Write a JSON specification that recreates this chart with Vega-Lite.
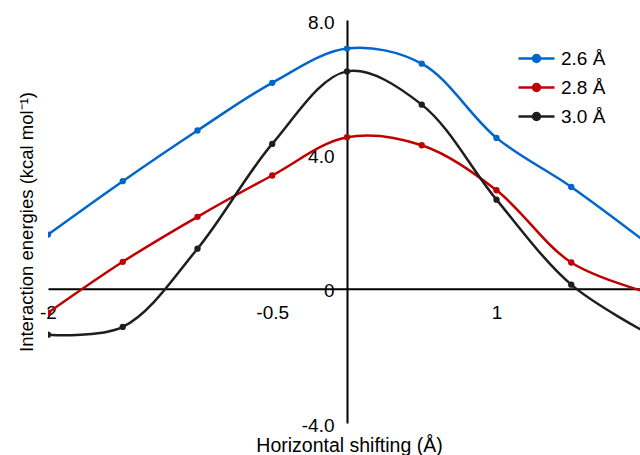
{
  "$schema": "https://vega.github.io/schema/vega-lite/v6.json",
  "width": 592,
  "height": 403,
  "autosize": {"type": "none"},
  "padding": {"left": 48, "top": 20, "right": 0, "bottom": 32},
  "background": "white",
  "config": {
    "view": {"stroke": null},
    "font": "Liberation Sans",
    "axis": {
      "grid": false,
      "ticks": false,
      "domainColor": "black",
      "domainWidth": 2,
      "labelColor": "black",
      "labelFontSize": 19,
      "labelFlush": false,
      "labelBound": false,
      "labelOverlap": false,
      "titleColor": "black",
      "titleFontWeight": "normal"
    }
  },
  "data": {
    "values": [
      {"shift": -2.0, "energy": 1.61, "series": "2.6 Å"},
      {"shift": -1.5, "energy": 3.20, "series": "2.6 Å"},
      {"shift": -1.0, "energy": 4.71, "series": "2.6 Å"},
      {"shift": -0.5, "energy": 6.13, "series": "2.6 Å"},
      {"shift": 0.0, "energy": 7.15, "series": "2.6 Å"},
      {"shift": 0.5, "energy": 6.70, "series": "2.6 Å"},
      {"shift": 1.0, "energy": 4.49, "series": "2.6 Å"},
      {"shift": 1.5, "energy": 3.03, "series": "2.6 Å"},
      {"shift": 2.0, "energy": 1.38, "series": "2.6 Å"},
      {"shift": -2.0, "energy": -0.72, "series": "2.8 Å"},
      {"shift": -1.5, "energy": 0.80, "series": "2.8 Å"},
      {"shift": -1.0, "energy": 2.14, "series": "2.8 Å"},
      {"shift": -0.5, "energy": 3.37, "series": "2.8 Å"},
      {"shift": 0.0, "energy": 4.51, "series": "2.8 Å"},
      {"shift": 0.5, "energy": 4.27, "series": "2.8 Å"},
      {"shift": 1.0, "energy": 2.93, "series": "2.8 Å"},
      {"shift": 1.5, "energy": 0.78, "series": "2.8 Å"},
      {"shift": 2.0, "energy": -0.10, "series": "2.8 Å"},
      {"shift": -2.0, "energy": -1.37, "series": "3.0 Å"},
      {"shift": -1.5, "energy": -1.14, "series": "3.0 Å"},
      {"shift": -1.0, "energy": 1.19, "series": "3.0 Å"},
      {"shift": -0.5, "energy": 4.31, "series": "3.0 Å"},
      {"shift": 0.0, "energy": 6.47, "series": "3.0 Å"},
      {"shift": 0.5, "energy": 5.48, "series": "3.0 Å"},
      {"shift": 1.0, "energy": 2.65, "series": "3.0 Å"},
      {"shift": 1.5, "energy": 0.12, "series": "3.0 Å"},
      {"shift": 2.0, "energy": -1.30, "series": "3.0 Å"}
    ]
  },
  "encoding": {
    "x": {
      "field": "shift",
      "type": "quantitative",
      "scale": {"domain": [-2, 1.96], "nice": false, "zero": false},
      "axis": {
        "orient": "bottom",
        "offset": -134.33,
        "values": [-2, -0.5, 1],
        "labelExpr": "toString(datum.value)",
        "labelPadding": 15,
        "title": "Horizontal shifting (Å)",
        "titleFontSize": 19.5,
        "titleBaseline": "alphabetic",
        "titleY": 163,
        "titleX": 301
      }
    },
    "y": {
      "field": "energy",
      "type": "quantitative",
      "scale": {"domain": [-4, 8], "nice": false, "zero": false},
      "axis": {
        "orient": "left",
        "offset": -299,
        "values": [-4, 0, 4, 8],
        "labelExpr": "datum.value == 0 ? '0' : (datum.value < 0 ? '-' : '') + format(abs(datum.value), '.1f')",
        "labelPadding": 13,
        "labelOffset": 2,
        "title": "Interaction energies (kcal mol⁻¹)",
        "titleFontSize": 18.5,
        "titleBaseline": "alphabetic",
        "titleX": -315
      }
    },
    "color": {
      "field": "series",
      "type": "nominal",
      "scale": {"domain": ["2.6 Å", "2.8 Å", "3.0 Å"], "range": ["#0066cc", "#c00000", "#1e1e1e"]},
      "legend": {
        "orient": "none",
        "legendX": 477,
        "legendY": 27,
        "title": null,
        "padding": 0,
        "symbolType": "M-1.8,0H1.8M0.35,0A0.35,0.35,0,1,1,-0.35,0A0.35,0.35,0,1,1,0.35,0",
        "symbolSize": 400,
        "symbolStrokeWidth": 2.5,
        "labelFontSize": 19,
        "labelColor": "black",
        "labelOffset": 13,
        "rowPadding": 7,
        "encode": {
          "symbols": {
            "update": {
              "fill": {"scale": "color", "field": "value"},
              "stroke": {"scale": "color", "field": "value"}
            }
          }
        }
      }
    }
  },
  "layer": [
    {"mark": {"type": "line", "interpolate": "catmull-rom", "strokeWidth": 2.5, "clip": true}},
    {"mark": {"type": "point", "filled": true, "size": 40, "opacity": 1, "clip": true}}
  ]
}
